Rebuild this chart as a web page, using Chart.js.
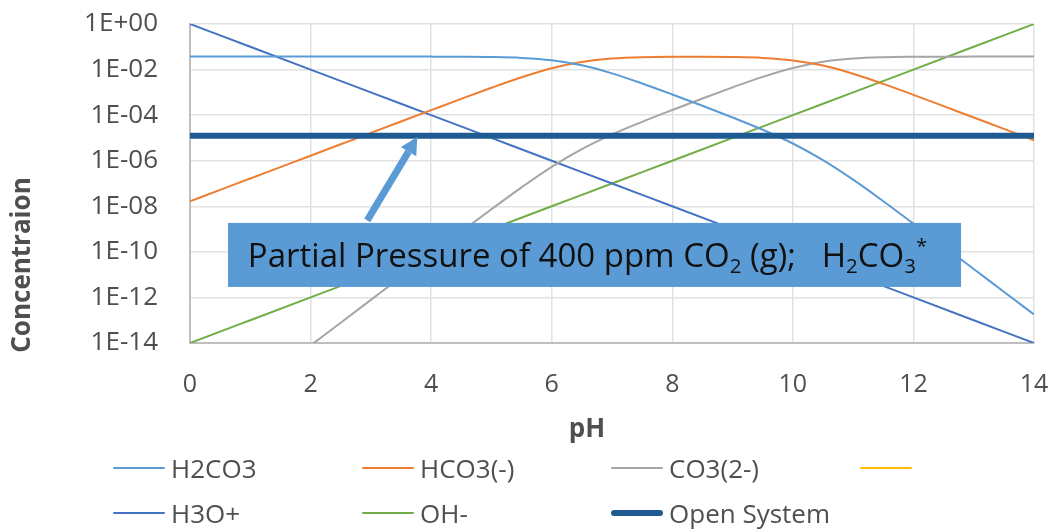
<!DOCTYPE html>
<html lang="en">

<head>
    <meta charset="UTF-8">
    <title>Carbonate Species vs pH</title>
    <!-- Chart.js for the plot -->
    <script src="https://cdn.jsdelivr.net/npm/chart.js"></script>
    <style>
        body { margin: 0; background: #fff; }
        #wrap { position: relative; width: 1057px; height: 529px; }
        #legend {
            position: absolute; left: 113px; top: 445px;
            display: grid; grid-template-columns: repeat(4, 249px);
        }
        .item {
            display: flex; align-items: center; height: 45px;
            font: 26px 'Open Sans', sans-serif; color: #4f4f4f;
        }
        .swatch { width: 52px; margin-right: 6px; border-radius: 3px; }
    </style>
</head>

<body>
    <div id="wrap">
        <canvas id="speciesChart"></canvas>
        <div id="legend"></div>
    </div>

    <script>
        // pH grid used for the carbonate species (closed system)
        const phSteps = [0, 0.5, 1, 1.5, 2, 2.5, 3, 3.5, 4, 4.5, 5, 5.5, 6, 6.5, 7,
            7.5, 8, 8.5, 9, 9.5, 10, 10.5, 11, 11.5, 12, 12.5, 13, 13.5, 14];

        const h2co3 = [3.7e-2, 3.7e-2, 3.7e-2, 3.7e-2, 3.7e-2, 3.7e-2, 3.7e-2, 3.7e-2, 3.7e-2,
            3.66e-2, 3.56e-2, 3.26e-2, 2.57e-2, 1.54e-2, 6.8e-3, 2.45e-3, 8.1e-4, 2.57e-4,
            7.9e-5, 2.29e-5, 5.7e-6, 1.06e-6, 1.47e-7, 1.67e-8, 1.74e-9, 1.77e-10,
            1.77e-11, 1.78e-12, 1.78e-13];

        const hco3 = [1.66e-8, 5.25e-8, 1.66e-7, 5.25e-7, 1.66e-6, 5.25e-6, 1.66e-5, 5.24e-5,
            1.65e-4, 5.18e-4, 1.59e-3, 4.6e-3, 1.15e-2, 2.17e-2, 3.03e-2, 3.47e-2, 3.61e-2,
            3.63e-2, 3.54e-2, 3.24e-2, 2.53e-2, 1.5e-2, 6.55e-3, 2.36e-3, 7.8e-4, 2.49e-4,
            7.9e-5, 2.51e-5, 7.9e-6];

        // carbonate only rises into view from pH 2
        const co3 = [null, null, null, null, 7.8e-15, 7.8e-14, 7.8e-13, 7.8e-12, 7.7e-11,
            7.7e-10, 7.4e-9, 6.8e-8, 5.4e-7, 3.2e-6, 1.42e-5, 5.1e-5, 1.69e-4, 5.4e-4,
            1.66e-3, 4.8e-3, 1.18e-2, 2.22e-2, 3.06e-2, 3.48e-2, 3.64e-2, 3.69e-2,
            3.7e-2, 3.72e-2, 3.72e-2];

        // water ions on whole pH units
        const phWhole = [0, 1, 2, 3, 4, 5, 6, 7, 8, 9, 10, 11, 12, 13, 14];
        const h3o = [1, 1e-1, 1e-2, 1e-3, 1e-4, 1e-5, 1e-6, 1e-7, 1e-8, 1e-9, 1e-10,
            1e-11, 1e-12, 1e-13, 1e-14];
        const oh = [1e-14, 1e-13, 1e-12, 1e-11, 1e-10, 1e-9, 1e-8, 1e-7, 1e-6, 1e-5,
            1e-4, 1e-3, 1e-2, 1e-1, 1];

        // dissolved CO2 in equilibrium with 400 ppm air
        const openPh = [0, 14];
        const openSystem = [1.25e-5, 1.25e-5];

        const yTickExponents = [0, -2, -4, -6, -8, -10, -12, -14];

        // callout box + arrow, in data units (pH, log10 conc.)
        const note = {
            box: { x0: 0.63, x1: 12.79, top: -8.73, bottom: -11.54 },
            textX: 0.96,
            arrowFrom: { x: 2.94, y: -8.62 },
            arrowTo: { x: 3.77, y: -4.96 }
        };

        const AXIS_GRAY = '#4f4f4f';
        const FONT = "'Open Sans', sans-serif";

        function toPoints(xs, ys) {
            return xs.map((x, i) => ({ x: x, y: ys[i] })).filter(p => p.y !== null);
        }

        function series(label, xs, ys, color, width) {
            return {
                label: label,
                data: toPoints(xs, ys),
                borderColor: color,
                backgroundColor: color,
                borderWidth: width,
                pointRadius: 0,
                fill: false,
                cubicInterpolationMode: 'monotone'
            };
        }

        function expLabel(v) {
            const e = Math.round(Math.log10(v));
            const a = Math.abs(e);
            return '1E' + (e < 0 ? '-' : '+') + (a < 10 ? '0' + a : a);
        }

        // draws the callout, arrow and the two axis titles
        const overlay = {
            id: 'overlay',
            afterDatasetsDraw(chart) {
                const ctx = chart.ctx;
                const xs = chart.scales.x, ys = chart.scales.y;
                const px = v => xs.getPixelForValue(v);
                const py = e => ys.getPixelForValue(Math.pow(10, e));
                ctx.save();

                // arrow
                const ax0 = px(note.arrowFrom.x), ay0 = py(note.arrowFrom.y);
                const ax1 = px(note.arrowTo.x), ay1 = py(note.arrowTo.y);
                const len = Math.hypot(ax1 - ax0, ay1 - ay0);
                const ux = (ax1 - ax0) / len, uy = (ay1 - ay0) / len;
                const head = 17, half = 9;
                const hx = ax1 - ux * head, hy = ay1 - uy * head;
                ctx.strokeStyle = '#5b9bd5';
                ctx.fillStyle = '#5b9bd5';
                ctx.lineWidth = 7;
                ctx.beginPath();
                ctx.moveTo(ax0, ay0);
                ctx.lineTo(hx, hy);
                ctx.stroke();
                ctx.beginPath();
                ctx.moveTo(ax1, ay1);
                ctx.lineTo(hx - uy * half, hy + ux * half);
                ctx.lineTo(hx + uy * half, hy - ux * half);
                ctx.closePath();
                ctx.fill();

                // box
                const bx0 = px(note.box.x0), bx1 = px(note.box.x1);
                const by0 = py(note.box.top), by1 = py(note.box.bottom);
                ctx.fillStyle = '#5b9bd5';
                ctx.fillRect(bx0, by0, bx1 - bx0, by1 - by0);

                // label with sub/superscripts
                const size = 33;
                const parts = [
                    ['Partial Pressure of 400 ppm CO', 0], ['2', 1], [' (g);   H', 0],
                    ['2', 1], ['CO', 0], ['3', 1], ['*', 2]
                ];
                let x = px(note.textX);
                const base = (by0 + by1) / 2 + size * 0.36;
                ctx.fillStyle = '#111';
                ctx.textBaseline = 'alphabetic';
                ctx.textAlign = 'left';
                parts.forEach(([t, kind]) => {
                    const s = kind === 0 ? size : size * 0.62;
                    ctx.font = s + 'px ' + FONT;
                    const dy = kind === 1 ? size * 0.2 : kind === 2 ? -size * 0.42 : 0;
                    ctx.fillText(t, x, base + dy);
                    x += ctx.measureText(t).width;
                });

                // axis titles
                ctx.fillStyle = AXIS_GRAY;
                ctx.font = 'bold 26px ' + FONT;
                ctx.textAlign = 'center';
                ctx.textBaseline = 'middle';
                ctx.fillText('pH', 587, 430);
                ctx.translate(23, 265);
                ctx.rotate(-Math.PI / 2);
                ctx.fillText('Concentraion', 0, 0);
                ctx.restore();
            }
        };

        const ctx = document.getElementById('speciesChart').getContext('2d');
        const chart = new Chart(ctx, {
            type: 'scatter',
            data: {
                datasets: [
                    series('H2CO3', phSteps, h2co3, '#5b9bd5', 2),
                    series('HCO3(-)', phSteps, hco3, '#ed7d31', 2),
                    series('CO3(2-)', phSteps, co3, '#a5a5a5', 2),
                    series('', [], [], '#ffc000', 2),
                    series('H3O+', phWhole, h3o, '#4472c4', 2),
                    series('OH-', phWhole, oh, '#70ad47', 2),
                    Object.assign(series('Open System', openPh, openSystem, '#1f5b93', 6), { order: -1 })
                ]
            },
            options: {
                responsive: true,
                maintainAspectRatio: false,
                animation: false,
                showLine: true,
                layout: { padding: { left: 0, right: 23, top: 24, bottom: 127 } },
                plugins: {
                    legend: { display: false },
                    tooltip: { enabled: false }
                },
                scales: {
                    x: {
                        type: 'linear',
                        min: 0,
                        max: 14,
                        ticks: {
                            stepSize: 2,
                            padding: 27,
                            color: AXIS_GRAY,
                            font: { family: FONT, size: 25 }
                        },
                        grid: { color: '#e2e2e2', lineWidth: 1.5, drawTicks: false },
                        border: { color: '#bfbfbf', width: 2 },
                        afterFit: s => { s.height = 59; s.paddingLeft = 0; s.paddingRight = 0; }
                    },
                    y: {
                        type: 'logarithmic',
                        min: 1e-14,
                        max: 1,
                        afterBuildTicks: s => {
                            s.ticks = yTickExponents.map(e => ({ value: Math.pow(10, e) }));
                        },
                        ticks: {
                            padding: 32,
                            color: AXIS_GRAY,
                            font: { family: FONT, size: 26 },
                            callback: v => expLabel(v)
                        },
                        grid: { color: '#e2e2e2', lineWidth: 1.5, drawTicks: false },
                        border: { color: '#bfbfbf', width: 2 },
                        afterFit: s => { s.width = 190; s.paddingTop = 0; s.paddingBottom = 0; }
                    }
                }
            },
            plugins: [overlay]
        });

        // legend in four fixed columns
        const legend = document.getElementById('legend');
        chart.data.datasets.forEach((ds, i) => {
            const item = document.createElement('div');
            item.className = 'item';
            if (i === 4) item.style.gridColumn = '1';
            const sw = document.createElement('span');
            sw.className = 'swatch';
            sw.style.height = ds.borderWidth + 'px';
            sw.style.background = ds.borderColor;
            item.appendChild(sw);
            item.appendChild(document.createTextNode(ds.label));
            legend.appendChild(item);
        });
    </script>

</body>

</html>
